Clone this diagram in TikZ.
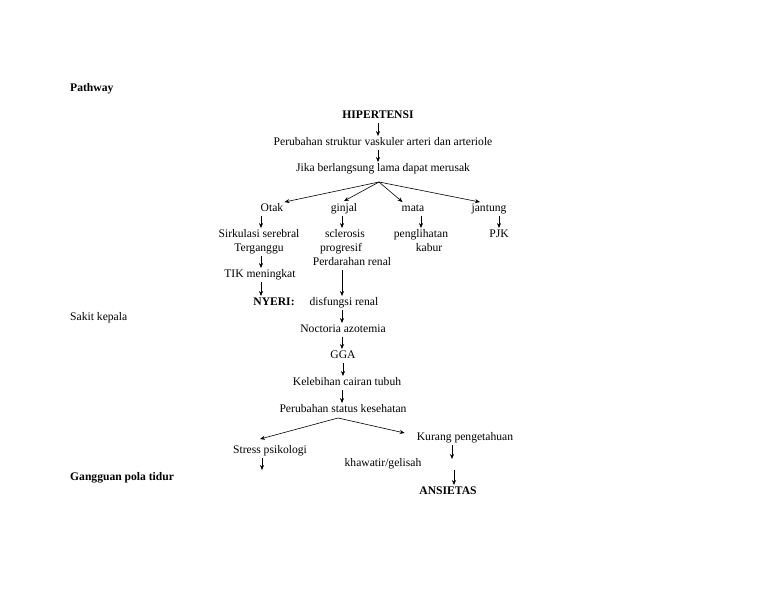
\documentclass[tikz,border=0pt]{standalone}
\usepackage{fontspec}
\setmainfont{Liberation Serif}
\usetikzlibrary{arrows.meta, calc}

\begin{document}
\begin{tikzpicture}[
  x=1pt, y=-1pt,
  every node/.style = {font=\fontsize{11.6}{14}\selectfont, inner xsep=1pt,
                       inner ysep=1.5pt, text height=8pt, text depth=2.5pt},
  head/.style  = {font=\fontsize{11.6}{14}\selectfont\bfseries},
  side/.style  = {anchor=west},
  arrow/.style = {line width=0.6pt, -{Stealth[length=5pt,width=4pt]}}
]
  \useasboundingbox (0,-2) rectangle (768,592);

  % side labels
  \node[head, side] (pathway) at (69,87) {Pathway};
  \node[side] (sakit) at (69,316) {Sakit kepala};
  \node[head, side] (tidur) at (69,476) {Gangguan pola tidur};

  % top chain
  \node[head] (hip) at (378,114) {HIPERTENSI};
  \node (struktur) at (383,141) {Perubahan struktur vaskuler arteri dan arteriole};
  \node (lama) at (383,167) {Jika berlangsung lama dapat merusak};
  \draw[arrow] (hip.south) -- (hip.south |- struktur.north);
  \draw[arrow] (struktur.south -| hip.south) -- (hip.south |- lama.north);

  % organs
  \node (otak) at (272,207) {Otak};
  \node (ginjal) at (344,207) {ginjal};
  \node (mata) at (413,207) {mata};
  \node (jantung) at (489,207) {jantung};
  \coordinate (split) at (379,180);
  \draw[arrow] (split) -- ($(otak.north east)+(0,0)$);
  \draw[arrow] (split) -- ($(ginjal.north)+(0,-1)$);
  \draw[arrow] (split) -- ($(mata.north west)+(2,0)$);
  \draw[arrow] (split) -- ($(jantung.north)+(-9,0)$);

  % second row
  \node (sirk) at (259,233) {Sirkulasi serebral};
  \node (terganggu) at (259,247) {Terganggu};
  \node (scler) at (345,233) {sclerosis};
  \node (progresif) at (341,247) {progresif};
  \node (perd) at (352,261) {Perdarahan renal};
  \node (pengl) at (421,233) {penglihatan};
  \node (kabur) at (429,247) {kabur};
  \node (pjk) at (499,233) {PJK};
  \draw[arrow] (otak.south -| 261,0) -- (sirk.north -| 261,0);
  \draw[arrow] (ginjal.south -| 342,0) -- (scler.north -| 342,0);
  \draw[arrow] (mata.south -| pengl.north) -- (pengl.north);
  \draw[arrow] (jantung.south -| pjk.north) -- (pjk.north);

  % otak branch
  \node (tik) at (260,273) {TIK meningkat};
  \node[head] (nyeri) at (274,301) {NYERI:};
  \draw[arrow] (terganggu.south -| 261,0) -- (tik.north -| 261,0);
  \draw[arrow] (tik.south -| 261,0) -- (nyeri.north -| 261,0);

  % ginjal branch
  \node (disf) at (344,301) {disfungsi renal};
  \node (noct) at (343,328) {Noctoria azotemia};
  \node (gga) at (343,354) {GGA};
  \node (kel) at (347,381) {Kelebihan cairan tubuh};
  \node (status) at (343,408) {Perubahan status kesehatan};
  \draw[arrow] (perd.south -| 342,0) -- (disf.north -| 342,0);
  \draw[arrow] (disf.south -| 342,0) -- (noct.north -| 342,0);
  \draw[arrow] (noct.south -| 342,0) -- (gga.north -| 342,0);
  \draw[arrow] (gga.south -| 343,0) -- (kel.north -| 343,0);
  \draw[arrow] (kel.south -| 342,0) -- (status.north -| 342,0);

  % lower split
  \node (stress) at (270,449) {Stress psikologi};
  \node (kurang) at (465,436) {Kurang pengetahuan};
  \node (khawatir) at (383,462) {khawatir/gelisah};
  \node[head] (ans) at (448,490) {ANSIETAS};
  \coordinate (split2) at (338,416);
  \draw[arrow] (split2) -- ($(stress.north)+(-10,-5)$);
  \draw[arrow] (split2) -- ($(kurang.west)+(-11,-5)$);

  % loose ends
  \coordinate (stressend) at (262,468);
  \coordinate (kurangend) at (452,457);
  \coordinate (ansin) at (454,468);
  \draw[arrow] (stress.south -| stressend) -- (stressend);
  \draw[arrow] (kurang.south -| kurangend) -- (kurangend);
  \draw[arrow] (ansin) -- (ans.north -| ansin);

\end{tikzpicture}
\end{document}
